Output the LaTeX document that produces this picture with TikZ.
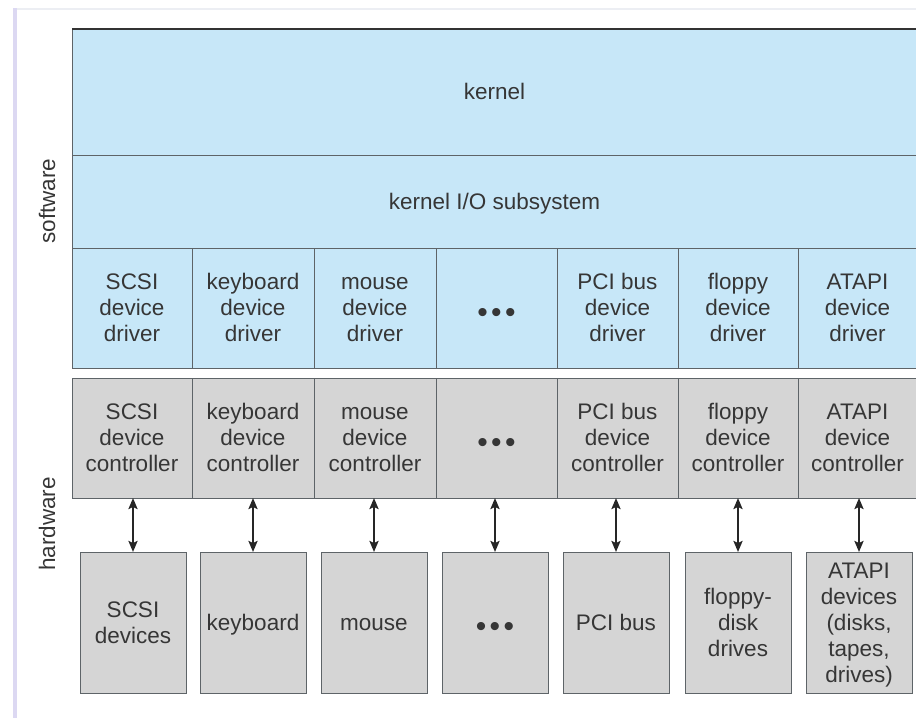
\documentclass[tikz,border=0pt]{standalone}
\usepackage{fontspec}
\setmainfont{Liberation Sans}
\usetikzlibrary{arrows.meta}

\definecolor{swblue}{HTML}{C7E7F8}
\definecolor{hwgray}{HTML}{D5D5D5}
\definecolor{edge}{HTML}{5E6468}
\definecolor{ink}{HTML}{363636}
\definecolor{rail}{HTML}{DCD8F2}
\definecolor{topline}{HTML}{ECEEF3}

% three large dots standing for further columns
\newcommand{\moredots}{\raisebox{-6.7pt}{\fontsize{30}{26}\selectfont
  \textbullet\hspace{3.5pt}\textbullet\hspace{3.5pt}\textbullet}}
% a centred stack of lines, all rows of equal height, set a little low
\newcommand{\linestack}[1]{\raisebox{-2.5pt}[\height][\depth]{\begin{tabular}{@{}c@{}}#1\end{tabular}}}

\begin{document}
\begin{tikzpicture}[x=1pt,y=-1pt,
  label font/.style={font=\fontsize{22.5}{26}\selectfont},
  cell/.style={draw=edge, line width=0.9pt, inner sep=0pt, outer sep=0pt,
    anchor=north west, text=ink, label font},
  swcell/.style={cell, fill=swblue},
  hwcell/.style={cell, fill=hwgray},
  side/.style={text=ink, label font, rotate=90},
  link/.style={{Stealth[length=11pt,width=9pt,inset=2pt]}-{Stealth[length=11pt,width=9pt,inset=2pt]},
    line width=2.2pt, black!85}]

\useasboundingbox (0,0) rectangle (916,718);
\clip (0,0) rectangle (916,718);

% page frame
\fill[topline] (13,8) rectangle (916,10);
\fill[rail] (13,8) rectangle (17,718);

% software layers
\node[swcell, minimum width=845pt, minimum height=126pt] (kernel) at (72,29) {\linestack{kernel}};
\node[swcell, minimum width=845pt, minimum height=93pt] (kio) at (72,155) {\linestack{kernel I/O subsystem}};
\draw[black!80, line width=1.6pt] (kernel.north west) -- (kernel.north east);

% device drivers
\foreach \i/\x/\w/\t in {
  1/72/120/{SCSI\\device\\driver},
  2/192/122/{keyboard\\device\\driver},
  3/314/122/{mouse\\device\\driver},
  4/436/121/{\moredots},
  5/557/121/{PCI bus\\device\\driver},
  6/678/120/{floppy\\device\\driver},
  7/798/119/{ATAPI\\device\\driver}}
  \node[swcell, minimum width=\w pt, minimum height=120pt] (drv\i) at (\x,248) {\linestack{\t}};

% device controllers
\foreach \i/\x/\w/\t in {
  1/72/120/{SCSI\\device\\controller},
  2/192/122/{keyboard\\device\\controller},
  3/314/122/{mouse\\device\\controller},
  4/436/121/{\moredots},
  5/557/121/{PCI bus\\device\\controller},
  6/678/120/{floppy\\device\\controller},
  7/798/119/{ATAPI\\device\\controller}}
  \node[hwcell, minimum width=\w pt, minimum height=120pt] (ctl\i) at (\x,378) {\linestack{\t}};

% devices
\foreach \i/\x/\t in {
  1/80/{SCSI\\devices},
  2/200/{keyboard},
  3/321/{mouse},
  4/442/{\moredots},
  5/563/{PCI bus},
  6/685/{floppy-\\disk\\drives},
  7/806/{ATAPI\\devices\\(disks,\\tapes,\\drives)}}
  \node[hwcell, minimum width=106pt, minimum height=141pt] (dev\i) at (\x,552) {\linestack{\t}};

% controller <-> device links
\foreach \i in {1,...,7}
  \draw[link] (dev\i.north |- ctl\i.south) -- (dev\i.north);

% side labels
\node[side] (sw) at (47,201) {software};
\node[side] (hw) at (47,524) {hardware};
\end{tikzpicture}
\end{document}
